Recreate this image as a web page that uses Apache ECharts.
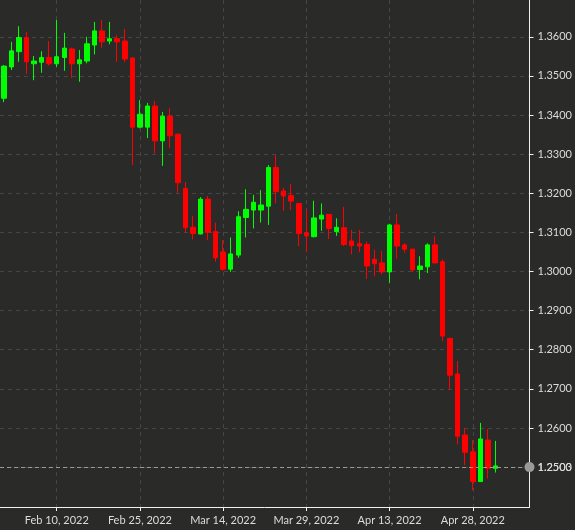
<!DOCTYPE html>
<html>
<head>
<meta charset="utf-8">
<script src="https://cdn.jsdelivr.net/npm/echarts@6/dist/echarts.min.js"></script>
<style>
html,body{margin:0;padding:0;background:#2a2b29;}
#chart{width:575px;height:530px;}
</style>
</head>
<body>
<div id="chart"></div>
<script>
const dates = [
"Feb 1, 2022","Feb 2, 2022","Feb 3, 2022","Feb 4, 2022","Feb 7, 2022","Feb 8, 2022","Feb 9, 2022","Feb 10, 2022","Feb 11, 2022",
"Feb 14, 2022","Feb 15, 2022","Feb 16, 2022","Feb 17, 2022","Feb 18, 2022",
"Feb 21, 2022","Feb 22, 2022","Feb 23, 2022","Feb 24, 2022","Feb 25, 2022","Feb 28, 2022",
"Mar 1, 2022","Mar 2, 2022","Mar 3, 2022","Mar 4, 2022",
"Mar 7, 2022","Mar 8, 2022","Mar 9, 2022","Mar 10, 2022","Mar 11, 2022",
"Mar 14, 2022","Mar 15, 2022","Mar 16, 2022","Mar 17, 2022","Mar 18, 2022",
"Mar 21, 2022","Mar 22, 2022","Mar 23, 2022","Mar 24, 2022","Mar 25, 2022",
"Mar 28, 2022","Mar 29, 2022","Mar 30, 2022","Mar 31, 2022","Apr 1, 2022",
"Apr 4, 2022","Apr 5, 2022","Apr 6, 2022","Apr 7, 2022","Apr 8, 2022",
"Apr 11, 2022","Apr 12, 2022","Apr 13, 2022","Apr 14, 2022","Apr 15, 2022",
"Apr 18, 2022","Apr 19, 2022","Apr 20, 2022","Apr 21, 2022","Apr 22, 2022",
"Apr 25, 2022","Apr 26, 2022","Apr 27, 2022","Apr 28, 2022","Apr 29, 2022",
"May 2, 2022","May 3, 2022","May 4, 2022","May 5, 2022","May 6, 2022","May 9, 2022"
];
const opens  = [1.3443,1.3523,1.3562,1.3598,1.3531,1.3535,1.3547,1.3531,1.3547,1.3569,1.3531,1.3538,1.3579,1.3615,1.3589,1.3595,1.3589,1.3546,1.3369,1.3369,1.3423,1.3334,1.3397,1.3351,1.3212,1.3113,1.3096,1.3185,1.3102,1.3050,1.3006,1.3042,1.3138,1.3157,1.3157,1.3167,1.3266,1.3206,1.3194,1.3174,1.3099,1.3089,1.3134,1.3146,1.3102,1.3112,1.3078,1.3071,1.3069,1.3031,1.3022,1.2999,1.3119,1.3068,1.3057,1.3005,1.3012,1.3068,1.3025,1.2829,1.2738,1.2582,1.2539,1.2463,1.2569,1.2497];
const closes = [1.3525,1.3564,1.3598,1.3536,1.3538,1.3547,1.3531,1.3549,1.3571,1.3531,1.3541,1.3582,1.3615,1.3587,1.3595,1.3587,1.3543,1.3369,1.3402,1.3423,1.3334,1.3397,1.3347,1.3227,1.3112,1.3097,1.3185,1.3100,1.3035,1.3006,1.3045,1.3140,1.3159,1.3177,1.3170,1.3266,1.3204,1.3193,1.3180,1.3097,1.3091,1.3137,1.3144,1.3110,1.3113,1.3069,1.3066,1.3065,1.3014,1.3020,1.2999,1.3119,1.3065,1.3057,1.3004,1.3014,1.3068,1.3022,1.2835,1.2735,1.2579,1.2538,1.2463,1.2572,1.2497,1.2503];
const lows   = [1.3433,1.3515,1.3536,1.3505,1.3489,1.3508,1.3526,1.3523,1.3513,1.3495,1.3485,1.3532,1.3555,1.3572,1.3581,1.3536,1.3535,1.3272,1.3366,1.3341,1.3302,1.3270,1.3316,1.3201,1.3099,1.3082,1.3095,1.3080,1.3025,1.3001,1.2999,1.3035,1.3087,1.3110,1.3125,1.3119,1.3174,1.3155,1.3157,1.3065,1.3049,1.3087,1.3104,1.3083,1.3091,1.3065,1.3044,1.3049,1.2981,1.2988,1.2993,1.2971,1.3033,1.3048,1.2999,1.2980,1.2996,1.3021,1.2822,1.2697,1.2558,1.2505,1.2441,1.2462,1.2471,1.2486];
const highs  = [1.3528,1.3587,1.3627,1.3613,1.3551,1.3563,1.3589,1.3643,1.3610,1.3572,1.3566,1.3600,1.3638,1.3643,1.3638,1.3604,1.3620,1.3547,1.3438,1.3431,1.3436,1.3408,1.3417,1.3352,1.3229,1.3142,1.3190,1.3193,1.3125,1.3080,1.3087,1.3154,1.3210,1.3196,1.3208,1.3272,1.3298,1.3214,1.3224,1.3175,1.3159,1.3181,1.3174,1.3147,1.3136,1.3165,1.3106,1.3106,1.3076,1.3056,1.3053,1.3122,1.3147,1.3072,1.3058,1.3039,1.3072,1.3090,1.3031,1.2830,1.2771,1.2599,1.2569,1.2613,1.2597,1.2567];
const yTicks = [1.25,1.26,1.27,1.28,1.29,1.30,1.31,1.32,1.33,1.34,1.35,1.36];
const xLabelDates = ["Feb 10, 2022","Feb 25, 2022","Mar 14, 2022","Mar 29, 2022","Apr 13, 2022","Apr 28, 2022"];
const lastPrice = closes[closes.length - 1];

const ohlc = opens.map((o, i) => [o, closes[i], lows[i], highs[i]]);
const labelSet = new Set(xLabelDates);
const showIdx = (idx) => labelSet.has(dates[idx]);
const labelIdx = xLabelDates.map(d => dates.indexOf(d));

const FONT = 'Lato';
const FS = 11;
const GRID_C = '#464745';
const chart = echarts.init(document.getElementById('chart'), null, {renderer: 'canvas'});
chart.setOption({
  backgroundColor: '#2a2b29',
  animation: false,
  grid: {left: 0, right: 45, top: 0, bottom: 23},
  xAxis: [{
    type: 'category',
    data: dates,
    boundaryGap: true,
    axisLine: {onZero: false, lineStyle: {color: '#f2f2f2', width: 1}},
    axisTick: {show: true, alignWithLabel: true, interval: showIdx, length: 4, lineStyle: {color: '#f2f2f2'}},
    axisLabel: {interval: showIdx, color: '#dcdcdc', fontSize: FS, fontFamily: FONT, margin: 8},
    splitLine: {show: false}
  }, {
    type: 'value',
    position: 'bottom',
    min: -0.5,
    max: dates.length - 0.5,
    axisLine: {show: false, onZero: false},
    axisTick: {show: true, length: 0, customValues: labelIdx, lineStyle: {color: 'rgba(0,0,0,0)'}},
    axisLabel: {show: false, customValues: labelIdx},
    splitLine: {show: true, lineStyle: {color: GRID_C, type: [4, 4], width: 1}}
  }],
  yAxis: {
    type: 'value',
    position: 'right',
    min: 1.2398,
    max: 1.3694,
    axisLine: {show: true, onZero: false, lineStyle: {color: '#f2f2f2', width: 1}},
    axisTick: {show: true, length: 4, customValues: yTicks, lineStyle: {color: '#f2f2f2'}},
    axisLabel: {customValues: yTicks, color: '#dcdcdc', fontSize: FS, fontFamily: FONT, margin: 8,
      formatter: (v) => v.toFixed(4)},
    splitLine: {show: true, lineStyle: {color: GRID_C, type: [4, 4], width: 1}}
  },
  series: [
    {
      type: 'candlestick',
      xAxisIndex: 0,
      data: ohlc,
      z: 3,
      barWidth: 5,
      itemStyle: {
        color: '#00ff00',
        color0: '#ff0000',
        borderColor: '#00ff00',
        borderColor0: '#ff0000',
        borderWidth: 1
      },
      markLine: {
        silent: true,
        symbol: ['none', 'circle'],
        symbolSize: 10,
        label: {show: true, position: 'end', distance: 8, color: '#dcdcdc', fontSize: FS, fontFamily: FONT,
          formatter: () => lastPrice.toFixed(4)},
        lineStyle: {color: '#9a9a9a', type: [4, 3], width: 1},
        itemStyle: {color: '#8a8a8a'},
        data: [{yAxis: lastPrice}]
      }
    }
  ]
});
</script>
</body>
</html>
